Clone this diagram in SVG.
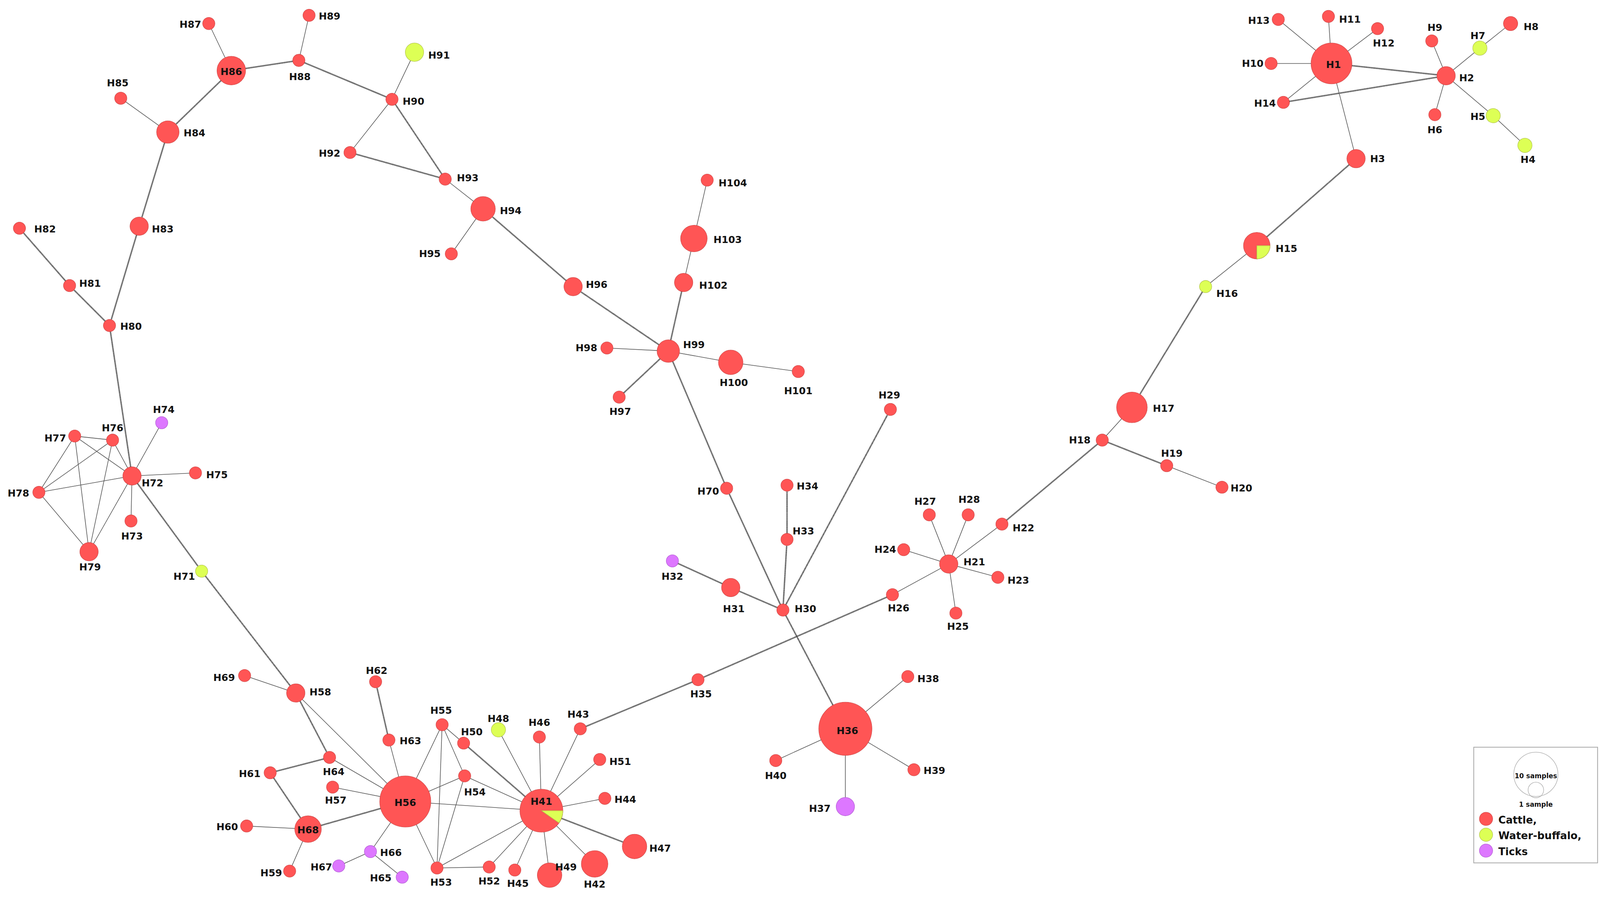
<svg xmlns="http://www.w3.org/2000/svg" width="4108" height="2296" viewBox="0 0 4108 2296">
<style>
.e{stroke:#555;stroke-width:0.6;fill:none}
.h{stroke:#3a3a3a;stroke-width:1.4;fill:none;stroke-dasharray:0.7 0.3}
.c{fill:#f55;stroke:#c44;stroke-width:0.4}
.y{fill:#df5;stroke:#ab4;stroke-width:0.4}
.p{fill:#d7f;stroke:#a5c;stroke-width:0.4}
text{font-family:"DejaVu Sans","Liberation Sans",sans-serif;font-weight:bold;font-size:9.5px;fill:#111;text-anchor:middle;dominant-baseline:central}
</style>
<rect width="4108" height="2296" fill="#fff"/>
<g transform="scale(2.62)">
<g id="connectors">
<line class="e" x1="1301" y1="62" x2="1242" y2="62"/><line class="e" x1="1301" y1="62" x2="1298" y2="16"/><line class="e" x1="1301" y1="62" x2="1346" y2="28"/><line class="e" x1="1301" y1="62" x2="1249" y2="19"/><line class="e" x1="1301" y1="62" x2="1254" y2="100"/>
<line class="h" x1="1301" y1="62" x2="1413" y2="74"/><line class="h" x1="1254" y1="100" x2="1413" y2="74"/><line class="e" x1="1301" y1="62" x2="1325" y2="155"/>
<line class="e" x1="1413" y1="74" x2="1399" y2="40"/><line class="e" x1="1413" y1="74" x2="1402" y2="112"/><line class="e" x1="1413" y1="74" x2="1446" y2="47"/><line class="e" x1="1446" y1="47" x2="1476" y2="23"/><line class="e" x1="1413" y1="74" x2="1459" y2="113"/><line class="e" x1="1459" y1="113" x2="1490" y2="142"/>
<line class="h" x1="1325" y1="155" x2="1228" y2="240"/><line class="e" x1="1228" y1="240" x2="1178" y2="280"/><line class="h" x1="1178" y1="280" x2="1106" y2="398"/><line class="e" x1="1106" y1="398" x2="1077" y2="430"/><line class="h" x1="1077" y1="430" x2="1140" y2="455"/><line class="e" x1="1140" y1="455" x2="1194" y2="476"/>
<line class="h" x1="1077" y1="430" x2="979" y2="512"/><line class="e" x1="979" y1="512" x2="927" y2="551"/><line class="e" x1="927" y1="551" x2="908" y2="503"/><line class="e" x1="927" y1="551" x2="946" y2="503"/><line class="e" x1="927" y1="551" x2="883" y2="537"/><line class="e" x1="927" y1="551" x2="975" y2="564"/><line class="e" x1="927" y1="551" x2="934" y2="599"/><line class="e" x1="927" y1="551" x2="872" y2="581"/>
<line class="h" x1="872" y1="581" x2="682" y2="664"/><line class="h" x1="682" y1="664" x2="567" y2="712"/><line class="e" x1="567" y1="712" x2="529" y2="792"/>
<line class="h" x1="765" y1="596" x2="870" y2="400"/><line class="h" x1="765" y1="596" x2="769" y2="527"/><line class="h" x1="769" y1="527" x2="769" y2="474"/><line class="h" x1="765" y1="596" x2="714" y2="574"/><line class="h" x1="714" y1="574" x2="657" y2="548"/><line class="h" x1="765" y1="596" x2="710" y2="477"/><line class="h" x1="710" y1="477" x2="653" y2="343"/><line class="h" x1="765" y1="596" x2="826" y2="712"/>
<line class="e" x1="826" y1="712" x2="887" y2="661"/><line class="e" x1="826" y1="712" x2="893" y2="752"/><line class="e" x1="826" y1="712" x2="758" y2="743"/><line class="e" x1="826" y1="712" x2="826" y2="788"/>
<line class="e" x1="653" y1="343" x2="593" y2="340"/><line class="h" x1="653" y1="343" x2="605" y2="388"/><line class="e" x1="653" y1="343" x2="714" y2="354"/><line class="e" x1="714" y1="354" x2="780" y2="363"/><line class="h" x1="653" y1="343" x2="668" y2="276"/><line class="e" x1="668" y1="276" x2="678" y2="233"/><line class="e" x1="678" y1="233" x2="691" y2="176"/>
<line class="h" x1="653" y1="343" x2="560" y2="280"/><line class="h" x1="560" y1="280" x2="472" y2="204"/><line class="e" x1="472" y1="204" x2="441" y2="248"/><line class="e" x1="472" y1="204" x2="435" y2="175"/><line class="h" x1="435" y1="175" x2="383" y2="97"/><line class="h" x1="435" y1="175" x2="342" y2="149"/><line class="e" x1="342" y1="149" x2="383" y2="97"/><line class="e" x1="383" y1="97" x2="405" y2="51"/>
<line class="h" x1="383" y1="97" x2="292" y2="59"/><line class="e" x1="292" y1="59" x2="302" y2="15"/><line class="h" x1="292" y1="59" x2="226" y2="69"/><line class="e" x1="226" y1="69" x2="204" y2="23"/><line class="h" x1="226" y1="69" x2="164" y2="129"/><line class="e" x1="164" y1="129" x2="118" y2="96"/><line class="h" x1="164" y1="129" x2="136" y2="221"/><line class="h" x1="136" y1="221" x2="107" y2="318"/><line class="h" x1="107" y1="318" x2="68" y2="279"/><line class="h" x1="68" y1="279" x2="19" y2="223"/><line class="h" x1="107" y1="318" x2="129" y2="465"/>
<line class="e" x1="129" y1="465" x2="158" y2="413"/><line class="e" x1="129" y1="465" x2="191" y2="462"/><line class="e" x1="129" y1="465" x2="128" y2="509"/><line class="e" x1="129" y1="465" x2="110" y2="430"/><line class="e" x1="129" y1="465" x2="73" y2="426"/><line class="e" x1="129" y1="465" x2="38" y2="481"/><line class="e" x1="129" y1="465" x2="87" y2="539"/><line class="e" x1="110" y1="430" x2="73" y2="426"/><line class="e" x1="110" y1="430" x2="87" y2="539"/><line class="e" x1="110" y1="430" x2="38" y2="481"/><line class="e" x1="73" y1="426" x2="38" y2="481"/><line class="e" x1="73" y1="426" x2="87" y2="539"/><line class="e" x1="38" y1="481" x2="87" y2="539"/>
<line class="h" x1="129" y1="465" x2="197" y2="558"/><line class="h" x1="197" y1="558" x2="289" y2="677"/><line class="e" x1="289" y1="677" x2="239" y2="660"/><line class="h" x1="289" y1="677" x2="322" y2="740"/><line class="e" x1="289" y1="677" x2="396" y2="783"/><line class="h" x1="322" y1="740" x2="264" y2="755"/><line class="e" x1="322" y1="740" x2="396" y2="783"/><line class="h" x1="264" y1="755" x2="301" y2="810"/><line class="e" x1="301" y1="810" x2="241" y2="807"/><line class="e" x1="301" y1="810" x2="283" y2="851"/><line class="h" x1="301" y1="810" x2="396" y2="783"/>
<line class="e" x1="396" y1="783" x2="325" y2="769"/><line class="e" x1="396" y1="783" x2="380" y2="723"/><line class="h" x1="380" y1="723" x2="367" y2="666"/><line class="e" x1="396" y1="783" x2="432" y2="708"/><line class="e" x1="396" y1="783" x2="454" y2="758"/><line class="e" x1="396" y1="783" x2="427" y2="848"/><line class="e" x1="396" y1="783" x2="529" y2="792"/><line class="e" x1="396" y1="783" x2="362" y2="832"/><line class="e" x1="362" y1="832" x2="393" y2="857"/><line class="e" x1="362" y1="832" x2="331" y2="846"/>
<line class="e" x1="432" y1="708" x2="427" y2="848"/><line class="e" x1="432" y1="708" x2="454" y2="758"/><line class="e" x1="432" y1="708" x2="453" y2="726"/><line class="h" x1="453" y1="726" x2="529" y2="792"/><line class="e" x1="454" y1="758" x2="529" y2="792"/><line class="e" x1="454" y1="758" x2="427" y2="848"/><line class="e" x1="427" y1="848" x2="529" y2="792"/><line class="e" x1="427" y1="848" x2="478" y2="847"/><line class="e" x1="478" y1="847" x2="529" y2="792"/>
<line class="e" x1="529" y1="792" x2="503" y2="850"/><line class="e" x1="529" y1="792" x2="537" y2="855"/><line class="e" x1="529" y1="792" x2="581" y2="844"/><line class="h" x1="529" y1="792" x2="620" y2="827"/><line class="e" x1="529" y1="792" x2="591" y2="780"/><line class="e" x1="529" y1="792" x2="586" y2="742"/><line class="e" x1="529" y1="792" x2="527" y2="720"/><line class="e" x1="529" y1="792" x2="487" y2="713"/>
</g>
<g id="H1"><circle class="c" cx="1301" cy="62" r="20"/><text x="1303" y="63">H1</text></g>
<g id="H2"><circle class="c" cx="1413" cy="74" r="9"/><text x="1433" y="76">H2</text></g>
<g id="H3"><circle class="c" cx="1325" cy="155" r="9"/><text x="1346" y="155">H3</text></g>
<g id="H4"><circle class="y" cx="1490" cy="142" r="7"/><text x="1493" y="156">H4</text></g>
<g id="H5"><circle class="y" cx="1459" cy="113" r="7"/><text x="1444" y="114">H5</text></g>
<g id="H6"><circle class="c" cx="1402" cy="112" r="6"/><text x="1402" y="127">H6</text></g>
<g id="H7"><circle class="y" cx="1446" cy="47" r="7"/><text x="1444" y="35">H7</text></g>
<g id="H8"><circle class="c" cx="1476" cy="23" r="7"/><text x="1496" y="26">H8</text></g>
<g id="H9"><circle class="c" cx="1399" cy="40" r="6"/><text x="1402" y="27">H9</text></g>
<g id="H10"><circle class="c" cx="1242" cy="62" r="6"/><text x="1224" y="62">H10</text></g>
<g id="H11"><circle class="c" cx="1298" cy="16" r="6"/><text x="1319" y="19">H11</text></g>
<g id="H12"><circle class="c" cx="1346" cy="28" r="6"/><text x="1352" y="42">H12</text></g>
<g id="H13"><circle class="c" cx="1249" cy="19" r="6"/><text x="1230" y="20">H13</text></g>
<g id="H14"><circle class="c" cx="1254" cy="100" r="6"/><text x="1236" y="101">H14</text></g>
<g id="H15"><circle class="c" cx="1228" cy="240" r="13"/><path class="y" d="M1228 240 L1241 240 A13 13 0 0 1 1228 253 Z"/><text x="1257" y="243">H15</text></g>
<g id="H16"><circle class="y" cx="1178" cy="280" r="6"/><text x="1199" y="287">H16</text></g>
<g id="H17"><circle class="c" cx="1106" cy="398" r="15"/><text x="1137" y="399">H17</text></g>
<g id="H18"><circle class="c" cx="1077" cy="430" r="6"/><text x="1055" y="430">H18</text></g>
<g id="H19"><circle class="c" cx="1140" cy="455" r="6"/><text x="1145" y="443">H19</text></g>
<g id="H20"><circle class="c" cx="1194" cy="476" r="6"/><text x="1213" y="477">H20</text></g>
<g id="H21"><circle class="c" cx="927" cy="551" r="9"/><text x="952" y="549">H21</text></g>
<g id="H22"><circle class="c" cx="979" cy="512" r="6"/><text x="1000" y="516">H22</text></g>
<g id="H23"><circle class="c" cx="975" cy="564" r="6"/><text x="995" y="567">H23</text></g>
<g id="H24"><circle class="c" cx="883" cy="537" r="6"/><text x="865" y="537">H24</text></g>
<g id="H25"><circle class="c" cx="934" cy="599" r="6"/><text x="936" y="612">H25</text></g>
<g id="H26"><circle class="c" cx="872" cy="581" r="6"/><text x="878" y="594">H26</text></g>
<g id="H27"><circle class="c" cx="908" cy="503" r="6"/><text x="904" y="490">H27</text></g>
<g id="H28"><circle class="c" cx="946" cy="503" r="6"/><text x="947" y="488">H28</text></g>
<g id="H29"><circle class="c" cx="870" cy="400" r="6"/><text x="869" y="386">H29</text></g>
<g id="H30"><circle class="c" cx="765" cy="596" r="6"/><text x="787" y="595">H30</text></g>
<g id="H31"><circle class="c" cx="714" cy="574" r="9"/><text x="717" y="595">H31</text></g>
<g id="H32"><circle class="p" cx="657" cy="548" r="6"/><text x="657" y="563">H32</text></g>
<g id="H33"><circle class="c" cx="769" cy="527" r="6"/><text x="785" y="519">H33</text></g>
<g id="H34"><circle class="c" cx="769" cy="474" r="6"/><text x="789" y="475">H34</text></g>
<g id="H35"><circle class="c" cx="682" cy="664" r="6"/><text x="685" y="678">H35</text></g>
<g id="H36"><circle class="c" cx="826" cy="712" r="26"/><text x="828" y="714">H36</text></g>
<g id="H37"><circle class="p" cx="826" cy="788" r="9"/><text x="801" y="790">H37</text></g>
<g id="H38"><circle class="c" cx="887" cy="661" r="6"/><text x="907" y="663">H38</text></g>
<g id="H39"><circle class="c" cx="893" cy="752" r="6"/><text x="913" y="753">H39</text></g>
<g id="H40"><circle class="c" cx="758" cy="743" r="6"/><text x="758" y="758">H40</text></g>
<g id="H41"><circle class="c" cx="529" cy="792" r="21"/><path class="y" d="M529 792 L550 792 A21 21 0 0 1 546.2 804 Z"/><text x="529" y="783">H41</text></g>
<g id="H42"><circle class="c" cx="581" cy="844" r="13"/><text x="581" y="864">H42</text></g>
<g id="H43"><circle class="c" cx="567" cy="712" r="6"/><text x="565" y="698">H43</text></g>
<g id="H44"><circle class="c" cx="591" cy="780" r="6"/><text x="611" y="781">H44</text></g>
<g id="H45"><circle class="c" cx="503" cy="850" r="6"/><text x="506" y="863">H45</text></g>
<g id="H46"><circle class="c" cx="527" cy="720" r="6"/><text x="527" y="706">H46</text></g>
<g id="H47"><circle class="c" cx="620" cy="827" r="12"/><text x="645" y="829">H47</text></g>
<g id="H48"><circle class="y" cx="487" cy="713" r="7"/><text x="487" y="702">H48</text></g>
<g id="H49"><circle class="c" cx="537" cy="855" r="12"/><text x="553" y="847">H49</text></g>
<g id="H50"><circle class="c" cx="453" cy="726" r="6"/><text x="461" y="715">H50</text></g>
<g id="H51"><circle class="c" cx="586" cy="742" r="6"/><text x="606" y="744">H51</text></g>
<g id="H52"><circle class="c" cx="478" cy="847" r="6"/><text x="478" y="861">H52</text></g>
<g id="H53"><circle class="c" cx="427" cy="848" r="6"/><text x="431" y="862">H53</text></g>
<g id="H54"><circle class="c" cx="454" cy="758" r="6"/><text x="464" y="774">H54</text></g>
<g id="H55"><circle class="c" cx="432" cy="708" r="6"/><text x="431" y="694">H55</text></g>
<g id="H56"><circle class="c" cx="396" cy="783" r="25"/><text x="396" y="784">H56</text></g>
<g id="H57"><circle class="c" cx="325" cy="769" r="6"/><text x="328" y="782">H57</text></g>
<g id="H58"><circle class="c" cx="289" cy="677" r="9"/><text x="313" y="676">H58</text></g>
<g id="H59"><circle class="c" cx="283" cy="851" r="6"/><text x="265" y="853">H59</text></g>
<g id="H60"><circle class="c" cx="241" cy="807" r="6"/><text x="222" y="808">H60</text></g>
<g id="H61"><circle class="c" cx="264" cy="755" r="6"/><text x="244" y="756">H61</text></g>
<g id="H62"><circle class="c" cx="367" cy="666" r="6"/><text x="368" y="655">H62</text></g>
<g id="H63"><circle class="c" cx="380" cy="723" r="6"/><text x="401" y="724">H63</text></g>
<g id="H64"><circle class="c" cx="322" cy="740" r="6"/><text x="326" y="754">H64</text></g>
<g id="H65"><circle class="p" cx="393" cy="857" r="6"/><text x="372" y="858">H65</text></g>
<g id="H66"><circle class="p" cx="362" cy="832" r="6"/><text x="382" y="833">H66</text></g>
<g id="H67"><circle class="p" cx="331" cy="846" r="6"/><text x="314" y="847">H67</text></g>
<g id="H68"><circle class="c" cx="301" cy="810" r="13"/><text x="301" y="811">H68</text></g>
<g id="H69"><circle class="c" cx="239" cy="660" r="6"/><text x="219" y="662">H69</text></g>
<g id="H70"><circle class="c" cx="710" cy="477" r="6"/><text x="692" y="480">H70</text></g>
<g id="H71"><circle class="y" cx="197" cy="558" r="6"/><text x="180" y="563">H71</text></g>
<g id="H72"><circle class="c" cx="129" cy="465" r="9"/><text x="149" y="472">H72</text></g>
<g id="H73"><circle class="c" cx="128" cy="509" r="6"/><text x="129" y="524">H73</text></g>
<g id="H74"><circle class="p" cx="158" cy="413" r="6"/><text x="160" y="400">H74</text></g>
<g id="H75"><circle class="c" cx="191" cy="462" r="6"/><text x="212" y="464">H75</text></g>
<g id="H76"><circle class="c" cx="110" cy="430" r="6"/><text x="110" y="418">H76</text></g>
<g id="H77"><circle class="c" cx="73" cy="426" r="6"/><text x="54" y="428">H77</text></g>
<g id="H78"><circle class="c" cx="38" cy="481" r="6"/><text x="18" y="482">H78</text></g>
<g id="H79"><circle class="c" cx="87" cy="539" r="9"/><text x="88" y="554">H79</text></g>
<g id="H80"><circle class="c" cx="107" cy="318" r="6"/><text x="128" y="319">H80</text></g>
<g id="H81"><circle class="c" cx="68" cy="279" r="6"/><text x="88" y="277">H81</text></g>
<g id="H82"><circle class="c" cx="19" cy="223" r="6"/><text x="44" y="224">H82</text></g>
<g id="H83"><circle class="c" cx="136" cy="221" r="9"/><text x="159" y="224">H83</text></g>
<g id="H84"><circle class="c" cx="164" cy="129" r="11"/><text x="190" y="130">H84</text></g>
<g id="H85"><circle class="c" cx="118" cy="96" r="6"/><text x="115" y="81">H85</text></g>
<g id="H86"><circle class="c" cx="226" cy="69" r="14"/><text x="226" y="70">H86</text></g>
<g id="H87"><circle class="c" cx="204" cy="23" r="6"/><text x="186" y="24">H87</text></g>
<g id="H88"><circle class="c" cx="292" cy="59" r="6"/><text x="293" y="75">H88</text></g>
<g id="H89"><circle class="c" cx="302" cy="15" r="6"/><text x="322" y="16">H89</text></g>
<g id="H90"><circle class="c" cx="383" cy="97" r="6"/><text x="404" y="99">H90</text></g>
<g id="H91"><circle class="y" cx="405" cy="51" r="9"/><text x="429" y="54">H91</text></g>
<g id="H92"><circle class="c" cx="342" cy="149" r="6"/><text x="322" y="150">H92</text></g>
<g id="H93"><circle class="c" cx="435" cy="175" r="6"/><text x="457" y="174">H93</text></g>
<g id="H94"><circle class="c" cx="472" cy="204" r="12"/><text x="499" y="206">H94</text></g>
<g id="H95"><circle class="c" cx="441" cy="248" r="6"/><text x="420" y="248">H95</text></g>
<g id="H96"><circle class="c" cx="560" cy="280" r="9"/><text x="583" y="278">H96</text></g>
<g id="H97"><circle class="c" cx="605" cy="388" r="6"/><text x="606" y="402">H97</text></g>
<g id="H98"><circle class="c" cx="593" cy="340" r="6"/><text x="573" y="340">H98</text></g>
<g id="H99"><circle class="c" cx="653" cy="343" r="11"/><text x="678" y="337">H99</text></g>
<g id="H100"><circle class="c" cx="714" cy="354" r="12"/><text x="717" y="374">H100</text></g>
<g id="H101"><circle class="c" cx="780" cy="363" r="6"/><text x="780" y="382">H101</text></g>
<g id="H102"><circle class="c" cx="668" cy="276" r="9"/><text x="697" y="279">H102</text></g>
<g id="H103"><circle class="c" cx="678" cy="233" r="13"/><text x="711" y="234">H103</text></g>
<g id="H104"><circle class="c" cx="691" cy="176" r="6"/><text x="716" y="179">H104</text></g>
<g id="legend">
<rect x="1440" y="730" width="121" height="113" fill="#fff" stroke="#aaa" stroke-width="0.8"/>
<circle cx="1500.7" cy="756.5" r="21.6" fill="none" stroke="#aaa" stroke-width="0.5"/>
<circle cx="1500.7" cy="771.8" r="7.6" fill="none" stroke="#aaa" stroke-width="0.5"/>
<text x="1500.7" y="758" style="font-size:6.5px">10 samples</text>
<text x="1500.7" y="786" style="font-size:6.5px">1 sample</text>
<circle class="c" cx="1452" cy="800" r="6.5"/><circle class="y" cx="1452" cy="815.5" r="6.5"/><circle class="p" cx="1452" cy="831" r="6.5"/>
<text x="1464" y="801" style="font-size:10px;text-anchor:start">Cattle,</text>
<text x="1464" y="816.5" style="font-size:10px;text-anchor:start">Water-buffalo,</text>
<text x="1464" y="832" style="font-size:10px;text-anchor:start">Ticks</text>
</g>
</g>
</svg>
